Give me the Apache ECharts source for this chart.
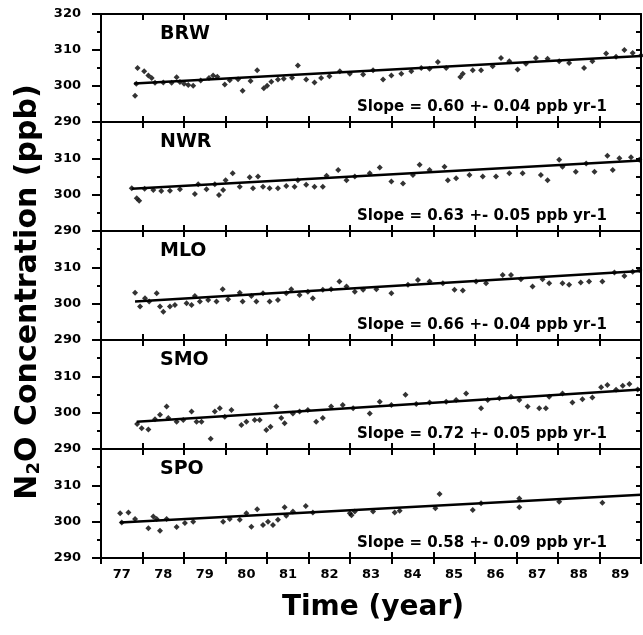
<!DOCTYPE html>
<html>
<head>
	<meta charset="utf-8" />
	<script src="https://cdn.jsdelivr.net/npm/echarts@6.0.0/dist/echarts.min.js"></script>
</head>
<body style="margin: 0; background-color: #ffffff">
	<div id="main" style="width: 643px; height: 635px;"></div>
</body>
<script type="text/javascript">
	// station names and the slope text printed in each panel
	var stations = ['BRW', 'NWR', 'MLO', 'SMO', 'SPO'];
	var slopeLabels = [
		'Slope = 0.60 +- 0.04 ppb yr-1',
		'Slope = 0.63 +- 0.05 ppb yr-1',
		'Slope = 0.66 +- 0.04 ppb yr-1',
		'Slope = 0.72 +- 0.05 ppb yr-1',
		'Slope = 0.58 +- 0.09 ppb yr-1'
	];
	var yearLabels = ['77', '78', '79', '80', '81', '82', '83', '84', '85', '86', '87', '88', '89'];

	// [year, ppb]
	var brwData = [
		[77.82, 297.3], [77.85, 300.6], [77.88, 305.0], [78.04, 304.1], [78.14, 302.9], [78.22, 302.2],
		[78.3, 300.9], [78.5, 301.0], [78.7, 300.9], [78.82, 302.4], [78.9, 301.1], [79.0, 300.6],
		[79.1, 300.3], [79.22, 300.1], [79.4, 301.5], [79.6, 302.2], [79.7, 302.9], [79.8, 302.6],
		[79.98, 300.4], [80.1, 301.6], [80.3, 301.9], [80.41, 298.7], [80.6, 301.4], [80.76, 304.4],
		[80.92, 299.4], [81.0, 300.1], [81.1, 301.2], [81.26, 301.8], [81.4, 302.0], [81.6, 302.3],
		[81.74, 305.7], [81.94, 301.8], [82.14, 301.0], [82.3, 302.2], [82.5, 302.7], [82.75, 304.1],
		[82.99, 303.4], [83.31, 303.2], [83.55, 304.4], [83.79, 301.8], [83.99, 302.9], [84.23, 303.4],
		[84.47, 304.1], [84.71, 305.0], [84.91, 304.8], [85.11, 306.7], [85.31, 305.0], [85.65, 302.5],
		[85.71, 303.4], [85.95, 304.4], [86.15, 304.4], [86.43, 305.5], [86.63, 307.8], [86.83, 306.9],
		[87.03, 304.6], [87.23, 306.2], [87.47, 307.8], [87.75, 307.6], [88.03, 306.9], [88.27, 306.4],
		[88.63, 305.0], [88.83, 306.9], [89.16, 309.0], [89.4, 308.1], [89.6, 310.0], [89.8, 309.2],
		[90.0, 308.5]
	];
	var nwrData = [
		[77.74, 301.8], [77.86, 299.0], [77.92, 298.3], [78.05, 301.6], [78.26, 301.3], [78.45, 301.0],
		[78.66, 301.1], [78.9, 301.5], [79.26, 300.2], [79.34, 302.9], [79.54, 301.5], [79.74, 302.9],
		[79.84, 299.9], [79.94, 301.3], [80.0, 304.0], [80.17, 305.9], [80.34, 302.2], [80.58, 304.8],
		[80.66, 301.8], [80.78, 305.0], [80.9, 302.2], [81.06, 301.8], [81.26, 301.8], [81.46, 302.4],
		[81.66, 302.2], [81.74, 304.0], [81.94, 302.7], [82.14, 302.2], [82.34, 302.2], [82.43, 305.2],
		[82.71, 306.8], [82.91, 304.0], [83.11, 305.0], [83.47, 305.9], [83.71, 307.5], [83.99, 303.6],
		[84.27, 303.1], [84.51, 305.4], [84.67, 308.2], [84.91, 306.8], [85.27, 307.7], [85.35, 304.0],
		[85.55, 304.5], [85.87, 305.4], [86.19, 305.0], [86.51, 305.0], [86.83, 305.9], [87.15, 305.9],
		[87.59, 305.4], [87.75, 304.0], [88.03, 309.6], [88.11, 307.7], [88.43, 306.3], [88.68, 308.6],
		[88.88, 306.3], [89.19, 310.7], [89.32, 306.8], [89.48, 310.0], [89.76, 310.3], [89.96, 309.6]
	];
	var mloData = [
		[77.82, 303.0], [77.94, 299.2], [78.06, 301.5], [78.16, 300.6], [78.34, 302.9], [78.42, 299.2],
		[78.5, 297.8], [78.66, 299.2], [78.78, 299.6], [79.06, 300.1], [79.18, 299.6], [79.26, 302.1],
		[79.38, 300.6], [79.58, 301.0], [79.78, 300.6], [79.93, 304.0], [80.06, 301.2], [80.34, 303.0],
		[80.41, 300.6], [80.62, 302.1], [80.74, 300.6], [80.9, 302.9], [81.06, 300.6], [81.26, 301.0],
		[81.46, 302.9], [81.58, 304.0], [81.78, 302.4], [81.98, 303.3], [82.1, 301.5], [82.34, 303.8],
		[82.54, 304.0], [82.74, 306.1], [82.91, 304.7], [83.11, 303.3], [83.31, 303.8], [83.63, 304.0],
		[83.99, 302.9], [84.39, 305.2], [84.63, 306.5], [84.91, 306.1], [85.23, 305.6], [85.51, 303.8],
		[85.71, 303.6], [86.03, 306.1], [86.27, 305.6], [86.67, 307.9], [86.87, 307.9], [87.11, 306.7],
		[87.39, 304.7], [87.63, 306.7], [87.79, 305.6], [88.11, 305.6], [88.27, 305.2], [88.55, 305.8],
		[88.75, 306.1], [89.07, 306.1], [89.36, 308.6], [89.6, 307.6], [89.8, 308.8], [89.96, 309.3]
	];
	var smoData = [
		[77.87, 296.9], [77.98, 295.7], [78.14, 295.4], [78.3, 298.2], [78.42, 299.4], [78.58, 301.7],
		[78.62, 298.5], [78.82, 297.5], [78.98, 298.0], [79.18, 300.3], [79.3, 297.5], [79.42, 297.5],
		[79.64, 292.8], [79.74, 300.3], [79.86, 301.2], [79.98, 298.9], [80.14, 300.7], [80.38, 296.6],
		[80.5, 297.5], [80.7, 298.0], [80.82, 298.0], [80.98, 295.2], [81.08, 296.1], [81.22, 301.7],
		[81.34, 298.5], [81.42, 297.1], [81.62, 299.8], [81.78, 300.3], [81.98, 300.7], [82.18, 297.5],
		[82.34, 298.5], [82.54, 301.7], [82.82, 302.1], [83.07, 301.2], [83.47, 299.8], [83.71, 303.0],
		[83.99, 302.1], [84.33, 304.9], [84.59, 302.4], [84.91, 302.8], [85.31, 303.0], [85.55, 303.5],
		[85.79, 305.3], [86.15, 301.2], [86.31, 303.5], [86.59, 304.0], [86.87, 304.4], [87.07, 303.5],
		[87.27, 301.7], [87.55, 301.2], [87.71, 301.2], [87.79, 304.4], [88.11, 305.3], [88.35, 302.8],
		[88.59, 303.7], [88.83, 304.2], [89.04, 307.0], [89.19, 307.6], [89.4, 306.3], [89.56, 307.4],
		[89.72, 307.9], [89.92, 306.4]
	];
	var spoData = [
		[77.46, 302.3], [77.5, 299.8], [77.66, 302.5], [77.82, 300.7], [78.14, 298.2], [78.26, 301.4],
		[78.34, 300.7], [78.42, 297.5], [78.58, 300.7], [78.82, 298.5], [79.02, 299.6], [79.22, 300.0],
		[79.94, 300.0], [80.1, 300.7], [80.34, 300.5], [80.5, 302.3], [80.62, 298.6], [80.76, 303.4],
		[80.9, 299.1], [81.02, 300.0], [81.14, 299.1], [81.26, 300.5], [81.42, 304.0], [81.46, 301.6],
		[81.62, 302.8], [81.93, 304.3], [82.1, 302.5], [82.99, 302.3], [83.03, 301.8], [83.11, 302.8],
		[83.55, 302.8], [84.07, 302.5], [84.19, 303.0], [85.05, 303.7], [85.15, 307.6], [85.95, 303.2],
		[86.15, 305.1], [87.07, 306.4], [87.07, 304.0], [88.03, 305.5], [89.07, 305.2]
	];
	var stationData = [brwData, nwrData, mloData, smoData, spoData];

	// fitted trend lines, end points
	var trends = [
		[[77.8, 300.7], [90, 308.3]],
		[[77.74, 301.6], [90, 309.4]],
		[[77.82, 300.6], [90, 309.0]],
		[[77.86, 297.5], [90, 306.4]],
		[[77.46, 299.8], [90, 307.4]]
	];

	var font = 'DejaVu Sans';
	var tops = [14, 122, 231, 340, 449];
	var heights = [108, 109, 109, 109, 109];

	var grids = [], xAxes = [], yAxes = [], series = [], graphics = [];
	var lineStyle = { color: '#000', width: 2 };

	for (var i = 0; i < 5; i++) {
		grids.push({ left: 101, right: 2, top: tops[i], height: heights[i] });
		// bottom and top frame of the panel, ticks pointing in
		['bottom', 'top'].forEach(function (pos) {
			xAxes.push({
				type: 'value', gridIndex: i, position: pos, min: 77, max: 90, interval: 1,
				axisLine: { show: true, onZero: false, lineStyle: lineStyle },
				axisTick: { show: true, inside: true, length: 6, lineStyle: lineStyle },
				axisLabel: { show: false },
				splitLine: { show: false }
			});
		});
		yAxes.push({
			type: 'value', gridIndex: i, position: 'left', min: 290, max: 320, interval: 10,
			axisLine: { show: true, onZero: false, lineStyle: lineStyle },
			axisTick: { show: true, length: 9, lineStyle: lineStyle },
			minorTick: { show: true, splitNumber: 2, length: 4, lineStyle: lineStyle },
			axisLabel: {
				color: '#000', fontFamily: font, fontWeight: 'bold', fontSize: 13, margin: 20,
				showMaxLabel: i === 0
			},
			splitLine: { show: false }
		});
		yAxes.push({
			type: 'value', gridIndex: i, position: 'right', min: 290, max: 320, interval: 5,
			axisLine: { show: true, onZero: false, lineStyle: lineStyle },
			axisTick: { show: true, inside: true, length: 5, lineStyle: lineStyle },
			axisLabel: { show: false },
			splitLine: { show: false }
		});

		series.push({
			type: 'scatter', xAxisIndex: 2 * i, yAxisIndex: 2 * i,
			symbol: 'diamond', symbolSize: 6,
			itemStyle: { color: '#000' },
			silent: true,
			data: stationData[i]
		});
		series.push({
			type: 'line', xAxisIndex: 2 * i, yAxisIndex: 2 * i,
			symbol: 'none', lineStyle: { color: '#000', width: 2.5 },
			silent: true,
			data: trends[i]
		});

		graphics.push({
			type: 'text', x: 160, y: tops[i] + 20,
			style: {
				text: stations[i], fill: '#000', fontFamily: font, fontWeight: 'bold', fontSize: 19,
				align: 'left', verticalAlign: 'middle'
			}
		});
		graphics.push({
			type: 'text', x: 357, y: tops[i] + heights[i] - 15,
			style: {
				text: slopeLabels[i], fill: '#000', fontFamily: font, fontWeight: 'bold', fontSize: 15,
				align: 'left', verticalAlign: 'middle'
			}
		});
	}

	// year labels sit between the ticks
	xAxes.push({
		type: 'category', gridIndex: 4, position: 'bottom', data: yearLabels, boundaryGap: true,
		axisLine: { show: true, onZero: false, lineStyle: lineStyle },
		axisTick: { show: true, length: 6, lineStyle: lineStyle },
		axisLabel: { color: '#000', fontFamily: font, fontWeight: 'bold', fontSize: 13, margin: 10 },
		splitLine: { show: false }
	});

	graphics.push({
		type: 'text', x: 373, y: 608,
		style: {
			text: 'Time (year)', fill: '#000', fontFamily: font, fontWeight: 'bold', fontSize: 28,
			align: 'center', verticalAlign: 'middle'
		}
	});
	graphics.push({
		type: 'text', x: 34, y: 292, rotation: Math.PI / 2,
		style: {
			text: '{m|N}{s|2}{m|O Concentration (ppb)}', fill: '#000',
			align: 'center', verticalAlign: 'middle',
			rich: {
				m: { fontFamily: font, fontWeight: 'bold', fontSize: 30, padding: [0, 0, 12, 0] },
				s: { fontFamily: font, fontWeight: 'bold', fontSize: 18 }
			}
		}
	});

	var myChart = echarts.init(document.getElementById('main'));
	myChart.setOption({
		backgroundColor: '#ffffff',
		animation: false,
		grid: grids,
		xAxis: xAxes,
		yAxis: yAxes,
		series: series,
		graphic: graphics
	});
</script>
</html>
